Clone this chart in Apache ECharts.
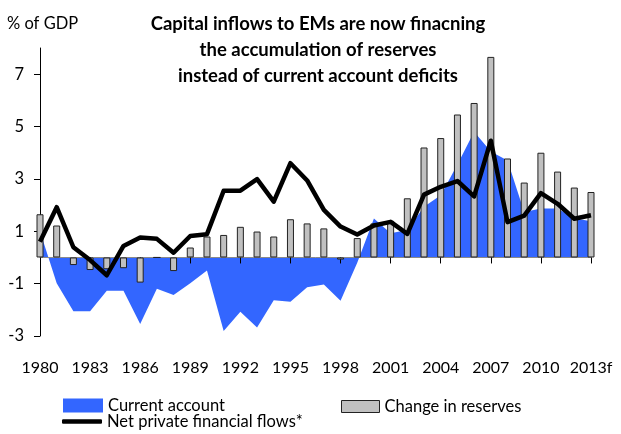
<!DOCTYPE html>
<html>
<head>
<meta charset="utf-8">
<script src="https://cdn.jsdelivr.net/npm/echarts@6/dist/echarts.min.js"></script>
<style>
  html, body { margin: 0; padding: 0; background: #fff; }
  #chart { width: 621px; height: 434px; }
</style>
</head>
<body>
<div id="chart"></div>
<script>
// Emerging markets: capital flows, % of GDP, 1980–2013 (2013 forecast)
const years = ['1980','1981','1982','1983','1984','1985','1986','1987','1988','1989',
  '1990','1991','1992','1993','1994','1995','1996','1997','1998','1999',
  '2000','2001','2002','2003','2004','2005','2006','2007','2008','2009',
  '2010','2011','2012','2013f'];

const currentAccount = [1.0, -0.99, -2.05, -2.05, -1.27, -1.27, -2.54, -1.2, -1.43, -0.99,
  -0.5, -2.81, -2.07, -2.68, -1.63, -1.69, -1.14, -1.03, -1.65, -0.2,
  1.49, 0.92, 1.05, 1.94, 2.38, 3.55, 4.8, 4.05, 3.7, 1.74,
  1.87, 1.87, 1.5, 1.38];

const reserveChange = [1.65, 1.22, -0.29, -0.48, -0.45, -0.41, -0.96, 0, -0.52, 0.38,
  0.8, 0.86, 1.17, 0.99, 0.8, 1.46, 1.3, 1.11, -0.08, 0.74,
  1.3, 1.4, 2.26, 4.2, 4.56, 5.46, 5.9, 7.66, 3.78, 2.86,
  4.0, 3.28, 2.67, 2.5];

const privateFlows = [0.6, 1.92, 0.39, -0.1, -0.68, 0.44, 0.76, 0.71, 0.18, 0.82,
  0.89, 2.55, 2.55, 2.99, 2.13, 3.6, 2.94, 1.82, 1.18, 0.88,
  1.22, 1.36, 0.9, 2.4, 2.7, 2.92, 2.33, 4.46, 1.35, 1.6,
  2.46, 2.05, 1.48, 1.61];

const yTicks = [-3, -1, 1, 3, 5, 7];

const FONT = 'Lato, "Noto Sans", sans-serif';

const chart = echarts.init(document.getElementById('chart'), null, { renderer: 'canvas' });

chart.setOption({
  animation: false,
  backgroundColor: '#ffffff',
  title: [
    {
      text: 'Capital inflows to EMs are now finacning\nthe accumulation of reserves\ninstead of current account deficits',
      left: 318, top: 11, padding: 0, textAlign: 'center',
      textStyle: { fontFamily: FONT, fontWeight: 'bold', fontSize: 18.5, lineHeight: 26, color: '#000' }
    },
    {
      text: '% of GDP',
      left: 7, top: 15, padding: 0,
      textStyle: { fontFamily: FONT, fontWeight: 'normal', fontSize: 16.5, color: '#000' }
    }
  ],
  legend: [
    {
      left: 63, top: 397, padding: 0, itemWidth: 40, itemHeight: 14,
      data: [{ name: 'Current account', icon: 'rect', itemStyle: { color: '#3366FF', borderWidth: 0 } }],
      textStyle: { fontFamily: FONT, fontSize: 16.5, color: '#000' },
      selectedMode: false
    },
    {
      left: 341, top: 398, padding: 0, itemWidth: 38, itemHeight: 12,
      data: [{ name: 'Change in reserves', icon: 'rect',
               itemStyle: { color: '#C0C0C0', borderColor: '#222', borderWidth: 1 } }],
      textStyle: { fontFamily: FONT, fontSize: 16.5, color: '#000' },
      selectedMode: false
    },
    {
      left: 62, top: 413, padding: 0, itemWidth: 40, itemHeight: 4.5,
      data: [{ name: 'Net private financial flows*', icon: 'roundRect',
               itemStyle: { color: '#000', borderWidth: 0 } }],
      textStyle: { fontFamily: FONT, fontSize: 16.5, color: '#000' },
      selectedMode: false
    }
  ],
  grid: { left: 40, right: 30, top: 48, bottom: 98, containLabel: false },
  xAxis: [
    {
      // year labels along the bottom
      type: 'category', data: years, boundaryGap: false, position: 'bottom',
      axisLine: { show: false, onZero: false },
      axisTick: { show: false },
      axisLabel: { interval: 2, margin: 24, fontFamily: FONT, fontSize: 16, color: '#000' },
      splitLine: { show: false }
    },
    {
      // zero line with tick marks every third year
      type: 'category', data: years, boundaryGap: false, position: 'bottom',
      axisLine: { show: true, onZero: true, lineStyle: { color: '#8a8a8a', width: 1 } },
      axisTick: { show: true, interval: 2, length: 6, lineStyle: { color: '#000', width: 1 } },
      axisLabel: { show: false },
      splitLine: { show: false },
      z: 4
    }
  ],
  yAxis: {
    type: 'value', min: -3, max: 8, interval: 2,
    axisLine: { show: true, onZero: false, lineStyle: { color: '#000', width: 1 } },
    axisTick: { show: true, inside: false, length: 6, customValues: yTicks, lineStyle: { color: '#000' } },
    axisLabel: { customValues: yTicks, margin: 16, fontFamily: FONT, fontSize: 16.5, color: '#000' },
    splitLine: { show: false }
  },
  series: [
    {
      name: 'Current account', type: 'line', xAxisIndex: 0, data: currentAccount,
      symbol: 'none', color: '#3366FF', z: 1,
      lineStyle: { width: 0 },
      areaStyle: { color: '#3366FF', opacity: 1 }
    },
    {
      name: 'Change in reserves', type: 'bar', xAxisIndex: 0, data: reserveChange,
      barWidth: 7, z: 5,
      itemStyle: { color: '#C0C0C0', borderColor: '#222', borderWidth: 1 }
    },
    {
      name: 'Net private financial flows*', type: 'line', xAxisIndex: 0, data: privateFlows,
      symbol: 'none', color: '#000', z: 6,
      lineStyle: { color: '#000', width: 4.5, join: 'round' }
    }
  ]
});
</script>
</body>
</html>
